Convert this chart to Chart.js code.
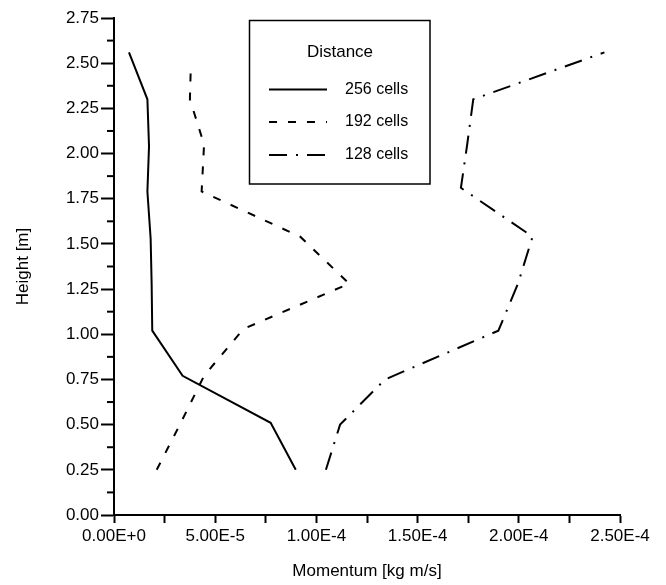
<!DOCTYPE html>
<html>
<head>
<meta charset="utf-8">
<script src="https://cdn.jsdelivr.net/npm/chart.js@4"></script>
<style>
  html, body { margin: 0; padding: 0; background: #fff; }
  #wrap { width: 666px; height: 585px; }
</style>
</head>
<body>
<div id="wrap"><canvas id="myChart"></canvas></div>
<script>
// heights [m] for each run
const heights256 = [0.25, 0.51, 0.77, 1.02, 1.28, 1.53, 1.79, 2.04, 2.30, 2.56];
const heights192 = [0.25, 0.51, 0.77, 1.03, 1.28, 1.54, 1.79, 2.05, 2.30, 2.50];
const heights128 = [0.25, 0.50, 0.75, 1.02, 1.28, 1.54, 1.81, 2.05, 2.30, 2.56];

// momentum [kg m/s]
const momentum256 = [8.98e-5, 7.74e-5, 3.39e-5, 1.89e-5, 1.86e-5, 1.81e-5, 1.65e-5, 1.73e-5, 1.65e-5, 7.4e-6];
const momentum192 = [2.11e-5, 3.3e-5, 4.45e-5, 6.4e-5, 1.162e-4, 9.2e-5, 4.33e-5, 4.45e-5, 3.75e-5, 3.8e-5];
const momentum128 = [1.047e-4, 1.117e-4, 1.339e-4, 1.899e-4, 1.996e-4, 2.068e-4, 1.714e-4, 1.745e-4, 1.775e-4, 2.423e-4];

const seriesNames = ['256 cells', '192 cells', '128 cells'];
const legendTitle = 'Distance';
const xTitle = 'Momentum [kg m/s]';
const yTitle = 'Height [m]';

const FONT = "'Liberation Sans', Arial, Helvetica, sans-serif";

function toPoints(xs, ys) {
  return xs.map((x, i) => ({ x: x, y: ys[i] }));
}

function fmtExp(v) {
  return v.toExponential(2).toUpperCase();
}

// minor ticks on y axis are shorter, draw them here
const minorTicks = {
  id: 'minorTicks',
  afterDraw(chart) {
    const c = chart.ctx;
    const ys = chart.scales.y;
    c.save();
    c.strokeStyle = '#000';
    c.lineWidth = 2;
    ys.ticks.forEach((t, i) => {
      if (i % 2 === 0) return;
      const py = ys.getPixelForValue(t.value);
      c.beginPath();
      c.moveTo(ys.right - 7, py);
      c.lineTo(ys.right, py);
      c.stroke();
    });
    c.restore();
  }
};

// boxed legend inside the plot
const boxLegend = {
  id: 'boxLegend',
  afterDraw(chart) {
    const c = chart.ctx;
    c.save();
    c.strokeStyle = '#000';
    c.lineWidth = 1.5;
    c.strokeRect(249.5, 20.5, 180.5, 163.5);
    c.fillStyle = '#000';
    c.font = '17px ' + FONT;
    c.textAlign = 'center';
    c.textBaseline = 'middle';
    c.fillText(legendTitle, 340, 52);
    const rows = [89.5, 122, 155];
    chart.data.datasets.forEach((ds, i) => {
      c.beginPath();
      c.setLineDash(ds.borderDash || []);
      c.lineWidth = ds.borderWidth;
      c.moveTo(269, rows[i]);
      c.lineTo(327, rows[i]);
      c.stroke();
      c.setLineDash([]);
      c.font = '16px ' + FONT;
      c.textAlign = 'left';
      c.fillText(ds.label, 345, rows[i]);
    });
    c.restore();
  }
};

const ctx = document.getElementById('myChart').getContext('2d');

const myChart = new Chart(ctx, {
  type: 'scatter',
  data: {
    datasets: [
      {
        label: seriesNames[0],
        data: toPoints(momentum256, heights256),
        borderColor: '#000',
        borderWidth: 2,
        borderDash: [],
      },
      {
        label: seriesNames[1],
        data: toPoints(momentum192, heights192),
        borderColor: '#000',
        borderWidth: 2,
        borderDash: [8, 11],
      },
      {
        label: seriesNames[2],
        data: toPoints(momentum128, heights128),
        borderColor: '#000',
        borderWidth: 2,
        borderDash: [18, 9, 2, 9],
      }
    ]
  },
  options: {
    responsive: true,
    maintainAspectRatio: false,
    animation: false,
    showLine: true,
    elements: {
      point: { radius: 0, hoverRadius: 0 },
      line: { tension: 0, fill: false, borderCapStyle: 'butt' }
    },
    layout: { padding: { top: 18, right: 46, left: 0, bottom: 0 } },
    plugins: {
      legend: { display: false },
      tooltip: { enabled: false }
    },
    scales: {
      x: {
        type: 'linear',
        min: 0,
        max: 2.5e-4,
        afterFit(scale) { scale.height = 70; },
        border: { display: true, color: '#000', width: 2 },
        grid: { drawOnChartArea: false, drawTicks: true, tickLength: 8, tickColor: '#000', tickWidth: 2 },
        ticks: {
          stepSize: 2.5e-5,
          autoSkip: false,
          maxRotation: 0,
          padding: 3,
          color: '#000',
          font: { family: FONT, size: 17 },
          callback: (v, i) => (i % 2 === 0 ? fmtExp(v) : '')
        },
        title: {
          display: true,
          text: xTitle,
          color: '#000',
          font: { family: FONT, size: 17 },
          padding: { top: 0, bottom: 3 }
        }
      },
      y: {
        type: 'linear',
        min: 0,
        max: 2.75,
        afterFit(scale) { scale.width = 114; },
        border: { display: true, color: '#000', width: 2 },
        grid: {
          drawOnChartArea: false,
          drawTicks: true,
          tickLength: 13,
          tickWidth: 2,
          tickColor: (c) => (c.index % 2 === 0 ? '#000' : 'rgba(0,0,0,0)')
        },
        ticks: {
          stepSize: 0.125,
          autoSkip: false,
          padding: 2,
          color: '#000',
          font: { family: FONT, size: 17 },
          callback: (v, i) => (i % 2 === 0 ? v.toFixed(2) : '')
        },
        title: {
          display: true,
          text: yTitle,
          color: '#000',
          font: { family: FONT, size: 17 },
          padding: { top: 13, bottom: 0 }
        }
      }
    }
  },
  plugins: [minorTicks, boxLegend]
});
</script>
</body>
</html>
